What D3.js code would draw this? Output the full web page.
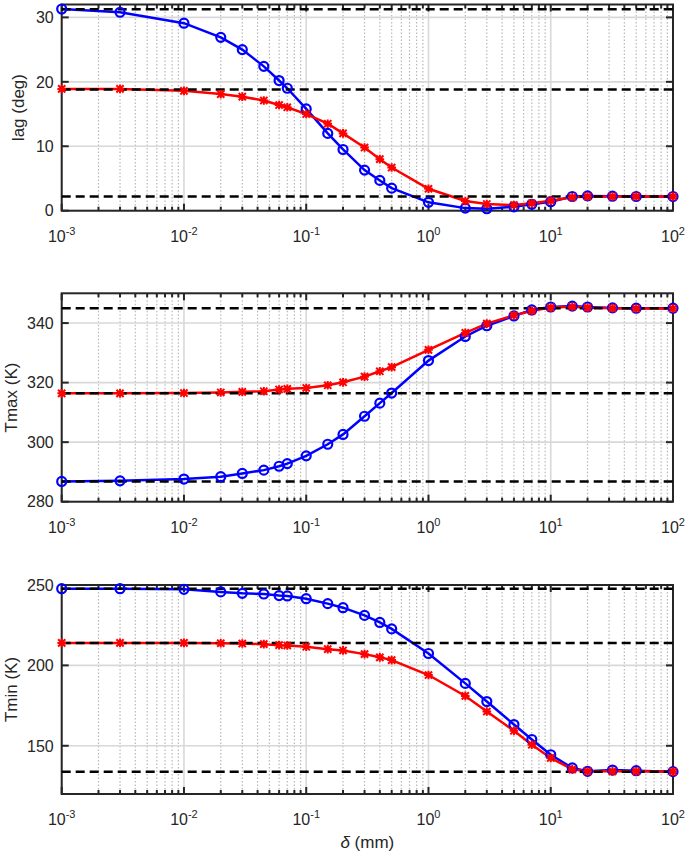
<!DOCTYPE html>
<html><head><meta charset="utf-8">
<script src="https://cdn.jsdelivr.net/npm/d3@7"></script>
<style>body{margin:0;background:#fff}svg text{font-family:"Liberation Sans",Arial,Helvetica,sans-serif;fill:#262626}</style>
</head><body><svg id="c" width="685" height="856"></svg>
<script>
const delta    = [0.001,0.003,0.01,0.02,0.03,0.045,0.06,0.07,0.1,0.15,0.2,0.3,0.4,0.5,1,2,3,5,7,10,15,20,32,50,100];
const lagBlue  = [31.3,30.8,29.1,26.9,25.0,22.4,20.2,19.0,15.8,12.0,9.5,6.3,4.7,3.5,1.3,0.4,0.3,0.6,1.0,1.4,2.2,2.3,2.25,2.2,2.2];
const lagRed   = [18.9,18.9,18.6,18.1,17.7,17.1,16.4,16.05,15.0,13.5,12.0,9.8,8.0,6.7,3.4,1.5,1.04,0.88,1.15,1.55,2.08,2.2,2.2,2.2,2.2];
const tmaxBlue = [286.8,287.0,287.6,288.4,289.5,290.6,291.9,292.8,295.4,299.3,302.6,308.7,313.1,316.5,327.4,335.5,339.1,342.4,344.4,345.4,345.7,345.4,345.1,345.0,345.0];
const tmaxRed  = [316.4,316.4,316.5,316.7,316.9,317.1,317.7,317.9,318.2,319.1,320.1,322.0,323.8,325.2,331.0,336.7,339.8,342.6,344.1,345.2,345.5,345.2,345.0,344.9,344.9];
const tminBlue = [247.7,247.7,247.3,245.7,244.8,244.4,243.4,243.2,241.5,238.4,235.9,231.1,226.7,222.7,207.4,188.8,177.5,163.2,153.9,144.4,136.2,134.1,134.9,134.5,133.9];
const tminRed  = [214.0,214.0,214.0,213.8,213.6,213.2,212.6,212.4,211.6,210.1,209.3,207.0,205.0,203.3,194.0,181.0,171.3,159.3,150.6,142.4,135.3,134.1,134.1,134.1,133.9];
const lagRefs  = [31.25,18.8,2.2];
const tmaxRefs = [345.0,316.4,286.8];
const tminRefs = [247.7,214.0,133.8];
const lagTicks  = [0,10,20,30];
const tmaxTicks = [280,300,320,340];
const tminTicks = [150,200,250];
const xTickExps = [-3,-2,-1,0,1,2];
const yLabels = ["lag (deg)","Tmax (K)","Tmin (K)"];
const xLabel = "(mm)";

const svg = d3.select("#c");
const L = 61.7, R = 673;
const x = d3.scaleLog().domain([1e-3,1e2]).range([L,R]);
const panels = [
  {label:yLabels[0], blue:lagBlue, red:lagRed, refs:lagRefs, dom:[0,32], ticks:lagTicks, top:4.5, bot:210.7, lx:24},
  {label:yLabels[1], blue:tmaxBlue, red:tmaxRed, refs:tmaxRefs, dom:[280,350], ticks:tmaxTicks, top:293.3, bot:501.7, lx:17},
  {label:yLabels[2], blue:tminBlue, red:tminRed, refs:tminRefs, dom:[120,250], ticks:tminTicks, top:585, bot:794, lx:17}
];
const minorVals = [];
for (let e=-3;e<2;e++) for (let k=2;k<=9;k++) minorVals.push(k*Math.pow(10,e));
const majorVals = xTickExps.map(e=>Math.pow(10,e));
const AX = "#262626";

panels.forEach(p=>{
  const y = d3.scaleLinear().domain(p.dom).range([p.bot,p.top]);
  const g = svg.append("g");
  g.selectAll(".mg").data(minorVals).enter().append("line")
    .attr("x1",d=>x(d)).attr("x2",d=>x(d)).attr("y1",p.top).attr("y2",p.bot)
    .attr("stroke","#b8b8b8").attr("stroke-width",1.2).attr("stroke-dasharray","1.5,2");
  g.selectAll(".Mg").data(majorVals).enter().append("line")
    .attr("x1",d=>x(d)).attr("x2",d=>x(d)).attr("y1",p.top).attr("y2",p.bot)
    .attr("stroke","#d8d8d8").attr("stroke-width",1.6);
  g.selectAll(".yg").data(p.ticks).enter().append("line")
    .attr("x1",L).attr("x2",R).attr("y1",d=>y(d)).attr("y2",d=>y(d))
    .attr("stroke","#d8d8d8").attr("stroke-width",1.6);
  g.append("rect").attr("x",L).attr("y",p.top).attr("width",R-L).attr("height",p.bot-p.top)
    .attr("fill","none").attr("stroke",AX).attr("stroke-width",2);
  [[p.bot,-1],[p.top,1]].forEach(([yy,s])=>{
    g.selectAll(null).data(minorVals).enter().append("line")
      .attr("x1",d=>x(d)).attr("x2",d=>x(d)).attr("y1",yy).attr("y2",yy+s*4)
      .attr("stroke",AX).attr("stroke-width",2);
    g.selectAll(null).data(majorVals).enter().append("line")
      .attr("x1",d=>x(d)).attr("x2",d=>x(d)).attr("y1",yy).attr("y2",yy+s*7)
      .attr("stroke",AX).attr("stroke-width",2);
  });
  [[L,1],[R,-1]].forEach(([xx,s])=>{
    g.selectAll(null).data(p.ticks).enter().append("line")
      .attr("x1",xx).attr("x2",xx+s*7).attr("y1",d=>y(d)).attr("y2",d=>y(d))
      .attr("stroke",AX).attr("stroke-width",2);
  });
  g.selectAll(null).data(p.ticks).enter().append("text")
    .attr("x",L-8).attr("y",d=>y(d)).attr("dy","0.36em").attr("text-anchor","end")
    .attr("font-size",16).text(d=>d);
  xTickExps.forEach(e=>{
    const t = g.append("text").attr("x",x(Math.pow(10,e))).attr("y",p.bot+31)
      .attr("text-anchor","middle").attr("font-size",16);
    t.append("tspan").text("10");
    t.append("tspan").attr("font-size",11).attr("dy",-7).text(String(e));
  });
  g.append("text").attr("transform",`translate(${p.lx},${(p.top+p.bot)/2}) rotate(-90)`)
    .attr("text-anchor","middle").attr("font-size",17).text(p.label);

  const line = d3.line().x((d,i)=>x(delta[i])).y(d=>y(d));
  g.append("path").datum(p.blue).attr("d",line).attr("fill","none").attr("stroke","#0000ff").attr("stroke-width",2.5);
  g.append("path").datum(p.red).attr("d",line).attr("fill","none").attr("stroke","#ff0000").attr("stroke-width",2.5);
  g.selectAll(null).data(p.refs).enter().append("line")
    .attr("x1",L).attr("x2",R).attr("y1",d=>y(d)).attr("y2",d=>y(d))
    .attr("stroke","#000").attr("stroke-width",2.5).attr("stroke-dasharray","9,5");
  g.selectAll(null).data(p.blue).enter().append("circle")
    .attr("cx",(d,i)=>x(delta[i])).attr("cy",d=>y(d)).attr("r",4.5)
    .attr("fill","none").attr("stroke","#0000ff").attr("stroke-width",2.2);
  const ms = 3.6;
  g.selectAll(null).data(p.red).enter().append("path")
    .attr("transform",(d,i)=>`translate(${x(delta[i])},${y(d)})`)
    .attr("d",`M${-ms},${-ms}L${ms},${ms}M${-ms},${ms}L${ms},${-ms}M0,${-ms*1.2}L0,${ms*1.2}M${-ms*1.2},0L${ms*1.2},0`)
    .attr("stroke","#ff0000").attr("stroke-width",2).attr("fill","none");
});
const xl = svg.append("text").attr("x",(L+R)/2).attr("y",848).attr("text-anchor","middle").attr("font-size",17);
xl.append("tspan").attr("font-style","italic").text("\u03b4");
xl.append("tspan").text(" "+xLabel);
</script></body></html>
